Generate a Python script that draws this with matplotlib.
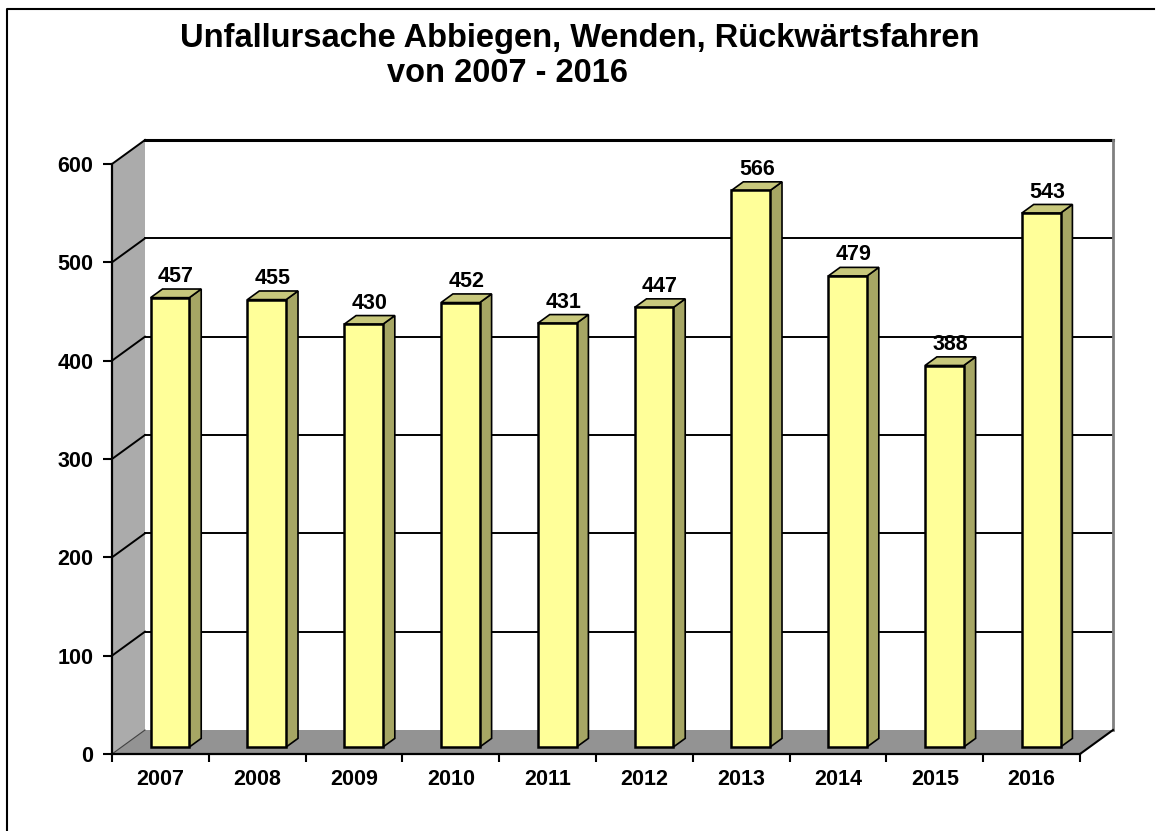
import matplotlib
matplotlib.use('Agg')
import matplotlib.pyplot as plt
from matplotlib.patches import Polygon, Rectangle
from matplotlib.lines import Line2D

plt.rcParams['font.family'] = ['Liberation Sans', 'DejaVu Sans']

years = ['2007', '2008', '2009', '2010', '2011', '2012', '2013', '2014', '2015', '2016']
values = [457, 455, 430, 452, 431, 447, 566, 479, 388, 543]
yticks = [0, 100, 200, 300, 400, 500, 600]
title1 = 'Unfallursache Abbiegen, Wenden, Rückwärtsfahren'
title2 = 'von 2007 - 2016'

W, H = 1163, 831
fig = plt.figure(figsize=(W / 100, H / 100), dpi=100)
ax = fig.add_axes([112 / W, 77 / H, 968 / W, 590 / H])
n = len(years)
ymax = yticks[-1]
ax.set_xlim(-0.5, n - 0.5)
ax.set_ylim(0, ymax)
ax.patch.set_visible(False)

# depth of the fake 3d box in data units (33 px right, 24 px up)
dx = 33 * n / 968
dy = 24 * ymax / 590
x0, x1 = -0.5, n - 0.5

# walls
ax.add_patch(Rectangle((x0 + dx, dy), x1 - x0, ymax, facecolor='white',
                       edgecolor='none', zorder=0.5, clip_on=False))
ax.add_patch(Polygon([(x0, 0), (x0, ymax), (x0 + dx, ymax + dy), (x0 + dx, dy)],
                     closed=True, facecolor='#ababab', edgecolor='none',
                     zorder=0.5, clip_on=False))
ax.add_patch(Polygon([(x0, 0), (x1, 0), (x1 + dx, dy), (x0 + dx, dy)],
                     closed=True, facecolor='#939393', edgecolor='none',
                     zorder=0.5, clip_on=False))

for t in yticks[1:]:
    ax.add_line(Line2D([x0 + dx, x1 + dx], [t + dy, t + dy], color='black',
                       lw=1.4, zorder=0.6, clip_on=False))
    ax.add_line(Line2D([x0, x0 + dx], [t, t + dy], color='black',
                       lw=1.4, zorder=0.6, clip_on=False))
ax.add_line(Line2D([x0, x0 + dx], [0, dy], color='#404040', lw=0.8,
                   zorder=0.6, clip_on=False))
ax.add_line(Line2D([x0 + dx, x1 + dx], [ymax + dy, ymax + dy], color='black',
                   lw=2.2, zorder=0.7, clip_on=False))
ax.add_line(Line2D([x1 + dx, x1 + dx], [dy, ymax + dy], color='#808080',
                   lw=2, zorder=0.7, clip_on=False))
ax.add_line(Line2D([x1, x1 + dx], [0, dy], color='black', lw=1.5,
                   zorder=0.7, clip_on=False))

# bars
bw = 0.40
f0, f1 = 0.29, 0.65
for i, v in enumerate(values):
    xc = i + f0 * dx
    left, right = xc - bw / 2, xc + bw / 2
    yb, yt = f0 * dy, v + f0 * dy
    ox, oy = (f1 - f0) * dx, (f1 - f0) * dy
    ax.add_patch(Polygon([(right, yb), (right + ox, yb + oy), (right + ox, yt + oy), (right, yt)],
                         closed=True, facecolor='#a6a664', edgecolor='black',
                         lw=1.2, zorder=3, clip_on=False))
    ax.add_patch(Polygon([(left, yt), (right, yt), (right + ox, yt + oy), (left + ox, yt + oy)],
                         closed=True, facecolor='#c8c87c', edgecolor='black',
                         lw=1.2, zorder=3, clip_on=False))
    ax.add_patch(Rectangle((left, yb), bw, v, facecolor='#ffff99',
                           edgecolor='black', lw=1.8, zorder=3.1, clip_on=False))
    ax.annotate(str(v), xy=(i + (f0 + f1) / 2 * dx, v + f1 * dy),
                xytext=(0, 5), textcoords='offset points', ha='center',
                va='baseline', fontsize=15.5, fontweight='bold', zorder=4)

# axes
for s in ['top', 'right']:
    ax.spines[s].set_visible(False)
for s in ['left', 'bottom']:
    ax.spines[s].set_color('black')
    ax.spines[s].set_linewidth(1.6)
    ax.spines[s].set_zorder(2.5)

ax.set_yticks(yticks)
ax.set_yticklabels([str(t) for t in yticks], fontweight='bold')
ax.tick_params(axis='y', length=6.5, width=1.5, pad=7, labelsize=15.5)

ax.set_xticks([i - 0.5 for i in range(n + 1)])
ax.set_xticklabels([''] * (n + 1))
ax.set_xticks(range(n), minor=True)
ax.set_xticklabels(years, minor=True, fontweight='bold')
ax.tick_params(axis='x', which='major', length=6, width=1.5)
ax.tick_params(axis='x', which='minor', length=0, pad=11, labelsize=15.5)

# title
fig.text(580 / W, (H - 47) / H, title1, ha='center', va='baseline',
         fontsize=23.5, fontweight='bold')
fig.text(507 / W, (H - 82) / H, title2, ha='center', va='baseline',
         fontsize=23.5, fontweight='bold')

# frame around the chart area
fig.add_artist(Line2D([7 / W, 7 / W, 1154 / W], [0, (H - 9) / H, (H - 9) / H],
                      color='black', lw=1.5, transform=fig.transFigure))

fig.savefig('out.png', dpi=100)
